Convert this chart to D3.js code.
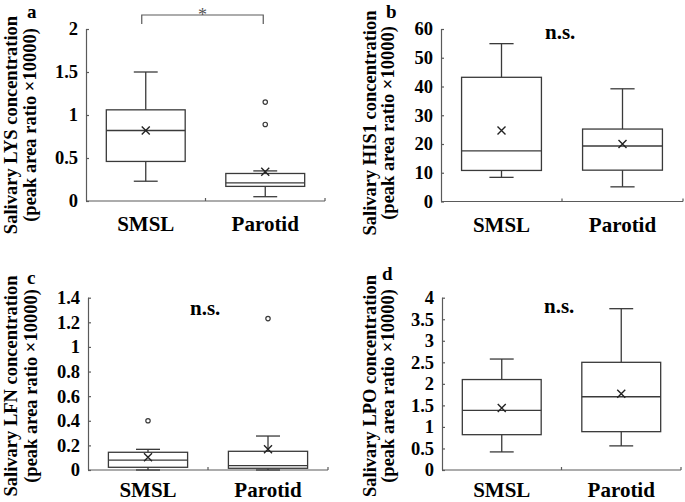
<!DOCTYPE html>
<html>
<head>
<meta charset="utf-8">
<script src="https://cdn.jsdelivr.net/npm/d3@7/dist/d3.min.js"></script>
<style>
  html, body { margin: 0; padding: 0; background: #fff; }
  svg { display: block; }
  text { font-family: "Liberation Serif", "Times New Roman", serif; }
</style>
</head>
<body>
<svg id="chart" width="685" height="502"></svg>
<script>
// ---------------- data ----------------
const categories = ["SMSL", "Parotid"];
const panelLetters = ["a", "b", "c", "d"];
const proteins = ["LYS", "HIS1", "LFN", "LPO"];
const whiskerLow  = [[0.23, 0.05], [8.4, 5.1],  [0.0, 0.0],     [0.42, 0.56]];
const q1          = [[0.46, 0.17], [10.8, 10.9], [0.022, 0.014], [0.82, 0.89]];
const medians     = [[0.82, 0.21], [17.6, 19.3], [0.081, 0.035], [1.385, 1.70]];
const q3          = [[1.06, 0.32], [43.2, 25.2], [0.144, 0.152], [2.10, 2.50]];
const whiskerHigh = [[1.50, 0.35], [54.9, 39.2], [0.168, 0.276], [2.576, 3.745]];
const means       = [[0.82, 0.34], [24.7, 20.0], [0.103, 0.168], [1.44, 1.77]];
const outliers    = [[[], [1.15, 0.89]], [[], []], [[0.40], [1.23]], [[], []]];
const yMax = [2, 60, 1.4, 4];
const yTicks = [
  [0, 0.5, 1, 1.5, 2],
  [0, 10, 20, 30, 40, 50, 60],
  [0, 0.2, 0.4, 0.6, 0.8, 1, 1.2, 1.4],
  [0, 0.5, 1, 1.5, 2, 2.5, 3, 3.5, 4]
];
const significance = ["*", "n.s.", "n.s.", "n.s."];
const titleLine2 = "(peak area ratio \u00d710000)";

// ---------------- layout ----------------
const layout = [
  { left: 86,  right: 325, top: 29,    bottom: 201,   letter: [27, 18],  t1: 17,  t2: 36,  tc: 125, xl: 30, sig: [0, 0] },
  { left: 441, right: 683, top: 29,    bottom: 201.5, letter: [386, 18], t1: 376, t2: 394, tc: 123, xl: 30, sig: [545, 39] },
  { left: 88,  right: 328, top: 297.7, bottom: 470,   letter: [27, 284], t1: 17,  t2: 37,  tc: 386, xl: 27, sig: [190, 315] },
  { left: 442, right: 681, top: 297.7, bottom: 470,   letter: [382, 280], t1: 376, t2: 394, tc: 386, xl: 27, sig: [544, 313] }
];

const svg = d3.select("#chart");
const lineColor = "#3a3a3a";
const axisColor = "#5a5a5a";

layout.forEach((L, i) => {
  const g = svg.append("g");
  const x = d3.scalePoint().domain(categories).range([L.left, L.right]).padding(0.5);
  const y = d3.scaleLinear().domain([0, yMax[i]]).range([L.bottom, L.top]);
  const W = L.right - L.left;
  const boxW = W * 0.33;
  const capW = W * 0.10;

  // y axis
  const yAxis = d3.axisLeft(y).tickValues(yTicks[i]).tickSize(-3).tickPadding(8)
    .tickFormat(d => String(d));
  const ya = g.append("g").attr("transform", `translate(${L.left},0)`).call(yAxis);
  ya.select(".domain").attr("d", `M0.5,${y(yMax[i])}V${L.bottom}`).attr("stroke", axisColor).attr("stroke-width", 1.2);
  ya.selectAll(".tick line").attr("stroke", axisColor).attr("stroke-width", 1.2);
  ya.selectAll(".tick text").attr("font-size", 18.5).attr("font-weight", "bold")
    .attr("font-family", "Liberation Serif, serif").attr("fill", "#000");

  // x axis
  const xa = g.append("g").attr("transform", `translate(0,${L.bottom})`);
  xa.append("line").attr("x1", L.left).attr("x2", L.right).attr("y1", 0).attr("y2", 0)
    .attr("stroke", axisColor).attr("stroke-width", 1.2);
  [L.left + W / 2, L.right].forEach(px => {
    xa.append("line").attr("x1", px).attr("x2", px).attr("y1", 0).attr("y2", -3)
      .attr("stroke", axisColor).attr("stroke-width", 1.2);
  });
  categories.forEach(c => {
    xa.append("text").attr("x", x(c)).attr("y", L.xl).attr("text-anchor", "middle")
      .attr("font-size", 21).attr("font-weight", "bold").text(c);
  });

  // boxes
  categories.forEach((c, j) => {
    const cx = x(c);
    const bg = g.append("g").attr("fill", "none").attr("stroke", lineColor).attr("stroke-width", 1.3);
    bg.append("line").attr("x1", cx).attr("x2", cx).attr("y1", y(q3[i][j])).attr("y2", y(whiskerHigh[i][j]));
    bg.append("line").attr("x1", cx).attr("x2", cx).attr("y1", y(q1[i][j])).attr("y2", y(whiskerLow[i][j]));
    bg.append("line").attr("x1", cx - capW / 2).attr("x2", cx + capW / 2)
      .attr("y1", y(whiskerHigh[i][j])).attr("y2", y(whiskerHigh[i][j]));
    bg.append("line").attr("x1", cx - capW / 2).attr("x2", cx + capW / 2)
      .attr("y1", y(whiskerLow[i][j])).attr("y2", y(whiskerLow[i][j]));
    bg.append("rect").attr("x", cx - boxW / 2).attr("width", boxW)
      .attr("y", y(q3[i][j])).attr("height", y(q1[i][j]) - y(q3[i][j]))
      .attr("fill", "#fff");
    bg.append("line").attr("x1", cx - boxW / 2).attr("x2", cx + boxW / 2)
      .attr("y1", y(medians[i][j])).attr("y2", y(medians[i][j]));
    const my = y(means[i][j]); const s = 4;
    bg.append("path").attr("d", `M${cx - s},${my - s}L${cx + s},${my + s}M${cx - s},${my + s}L${cx + s},${my - s}`)
      .attr("stroke", "#222").attr("stroke-width", 1.4);
    outliers[i][j].forEach(v => {
      bg.append("circle").attr("cx", cx).attr("cy", y(v)).attr("r", 2.2)
        .attr("stroke-width", 1.2).attr("fill", "#fff");
    });
  });

  // panel letter
  g.append("text").attr("x", L.letter[0]).attr("y", L.letter[1])
    .attr("font-size", 19).attr("font-weight", "bold").text(panelLetters[i]);

  // y title
  const t = g.append("g").attr("font-size", 18.5).attr("font-weight", "bold").attr("text-anchor", "middle");
  t.append("text").attr("transform", `translate(${L.t1},${L.tc}) rotate(-90)`)
    .text(`Salivary ${proteins[i]} concentration`);
  t.append("text").attr("transform", `translate(${L.t2},${L.tc}) rotate(-90)`)
    .text(titleLine2);

  // significance
  if (significance[i] === "*") {
    const x1 = x(categories[0]) - 4, x2 = x(categories[1]) - 2;
    g.append("path").attr("d", `M${x1},24V15H${x2}V24`).attr("fill", "none")
      .attr("stroke", axisColor).attr("stroke-width", 1.2);
    g.append("text").attr("x", (x1 + x2) / 2).attr("y", 21).attr("text-anchor", "middle")
      .attr("font-size", 18).attr("fill", "#555").text("*");
  } else {
    g.append("text").attr("x", L.sig[0]).attr("y", L.sig[1])
      .attr("font-size", 21).attr("font-weight", "bold").text(significance[i]);
  }
});
</script>
</body>
</html>
